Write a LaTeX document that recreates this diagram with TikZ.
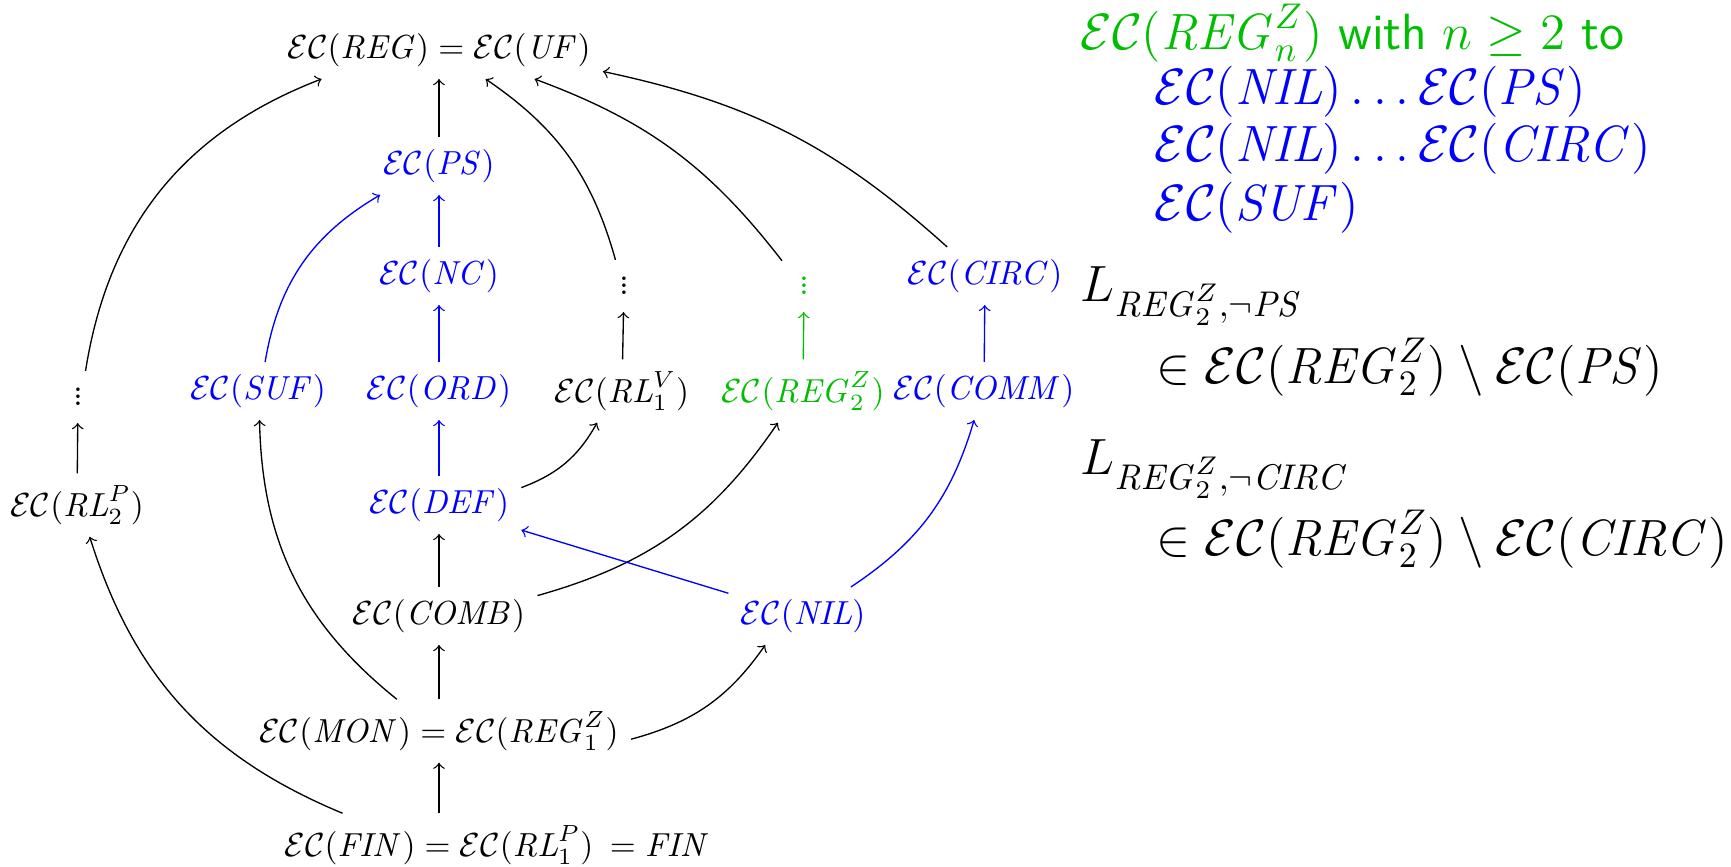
\RequirePackage{fix-cm}
\documentclass[tikz,border=0pt]{standalone}
\usepackage{amsmath,amssymb}
\definecolor{mygreen}{RGB}{0,190,0}
\newcommand{\nm}[1]{\mathit{#1}}
\newcommand{\tvd}{\vbox{\baselineskip2.1pt\lineskiplimit=-100pt\lineskip0pt\hbox{.}\hbox{.}\hbox{.}}}
\begin{document}
\begin{tikzpicture}[x=0.3pt,y=-0.3pt,>=to,
  nd/.style={inner sep=3.5pt},
  bl/.style={blue},
  gr/.style={mygreen},
  ar/.style={->},
  rt/.style={anchor=west,inner sep=0pt,font=\fontsize{15.3}{18}\selectfont}]
\useasboundingbox (0,0) rectangle (1731,867);
% left graph
\node[nd] (reg) at (439,50) {$\mathcal{EC}(\nm{REG})=\mathcal{EC}(\nm{UF})$};
\node[nd,bl] (ps) at (439,166) {$\mathcal{EC}(\nm{PS})$};
\node[nd,bl] (nc) at (439,276) {$\mathcal{EC}(\nm{NC})$};
\node[nd,inner sep=5pt] (d1) at (624,286) {\tvd};
\node[nd,gr,inner sep=5pt] (d2) at (804,286) {\tvd};
\node[nd,bl] (circ) at (985,276) {$\mathcal{EC}(\nm{CIRC})$};
\node[nd,inner sep=5pt] (d0) at (78,397) {\tvd};
\node[nd,bl] (suf) at (258,391) {$\mathcal{EC}(\nm{SUF})$};
\node[nd,bl] (ord) at (439,391) {$\mathcal{EC}(\nm{ORD})$};
\node[nd] (rlv) at (622,391) {$\mathcal{EC}(\nm{RL}^V_1)$};
\node[nd,gr] (reg2) at (803,391) {$\mathcal{EC}(\nm{REG}^Z_2)$};
\node[nd,bl] (comm) at (984,391) {$\mathcal{EC}(\nm{COMM})$};
\node[nd] (rlp) at (77,505) {$\mathcal{EC}(\nm{RL}^P_2)$};
\node[nd,bl] (def) at (439,505) {$\mathcal{EC}(\nm{DEF})$};
\node[nd] (comb) at (439,616) {$\mathcal{EC}(\nm{COMB})$};
\node[nd,bl] (nil) at (803,616) {$\mathcal{EC}(\nm{NIL})$};
\node[nd] (mon) at (439,731) {$\mathcal{EC}(\nm{MON})=\mathcal{EC}(\nm{REG}^Z_1)$};
\node[nd] (fin) at (439,845) {$\mathcal{EC}(\nm{FIN})=\mathcal{EC}(\nm{RL}^P_1)$\rlap{\ \,$=\nm{FIN}$}};
% black edges
\draw[ar] (ps) -- (reg);
\draw[ar] (d1) to[bend right=20] (reg);
\draw[ar] (d2) to[bend right=16] (reg);
\draw[ar] (circ) to[bend right=15] (reg);
\draw[ar] (d0) to[bend left=30] (reg);
\draw[ar] (rlp) -- (d0);
\draw[ar] (rlv) -- (d1);
\draw[ar] (def) to[bend right=20] (rlv);
\draw[ar] (comb) to[bend right=20] (reg2);
\draw[ar] (comb) -- (def);
\draw[ar] (mon) -- (comb);
\draw[ar] (mon) to[bend left=25] (suf);
\draw[ar] (mon) to[bend right=20] (nil);
\draw[ar] (fin) -- (mon);
\draw[ar] (fin) to[bend left=25] (rlp);
% blue edges
\draw[ar,bl] (nc) -- (ps);
\draw[ar,bl] (ord) -- (nc);
\draw[ar,bl] (def) -- (ord);
\draw[ar,bl] (suf) to[bend left=25] (ps);
\draw[ar,bl] (nil) -- (def);
\draw[ar,bl] (nil) to[bend right=20] (comm);
\draw[ar,bl] (comm) -- (circ);
% green edge
\draw[ar,gr] (reg2) -- (d2);
% right text
\node[rt,gr] (t1) at (1080,33) {$\mathcal{EC}(\nm{REG}^Z_n)$ \textsf{with} $n\geq 2$ \textsf{to}};
\node[rt,bl] (t2) at (1154,92) {$\mathcal{EC}(\nm{NIL})\ldots\mathcal{EC}(\nm{PS})$};
\node[rt,bl] (t3) at (1154,149) {$\mathcal{EC}(\nm{NIL})\ldots\mathcal{EC}(\nm{CIRC})$};
\node[rt,bl] (t4) at (1154,208) {$\mathcal{EC}(\nm{SUF})$};
\node[rt] (t5) at (1080,296) {$L_{\nm{REG}^Z_2,\neg \nm{PS}}$};
\node[rt] (t6) at (1156,367) {$\in\mathcal{EC}(\nm{REG}^Z_2)\setminus\mathcal{EC}(\nm{PS})$};
\node[rt] (t7) at (1080,469) {$L_{\nm{REG}^Z_2,\neg \nm{CIRC}}$};
\node[rt] (t8) at (1156,539) {$\in\mathcal{EC}(\nm{REG}^Z_2)\setminus\mathcal{EC}(\nm{CIRC})$};
\end{tikzpicture}
\end{document}
